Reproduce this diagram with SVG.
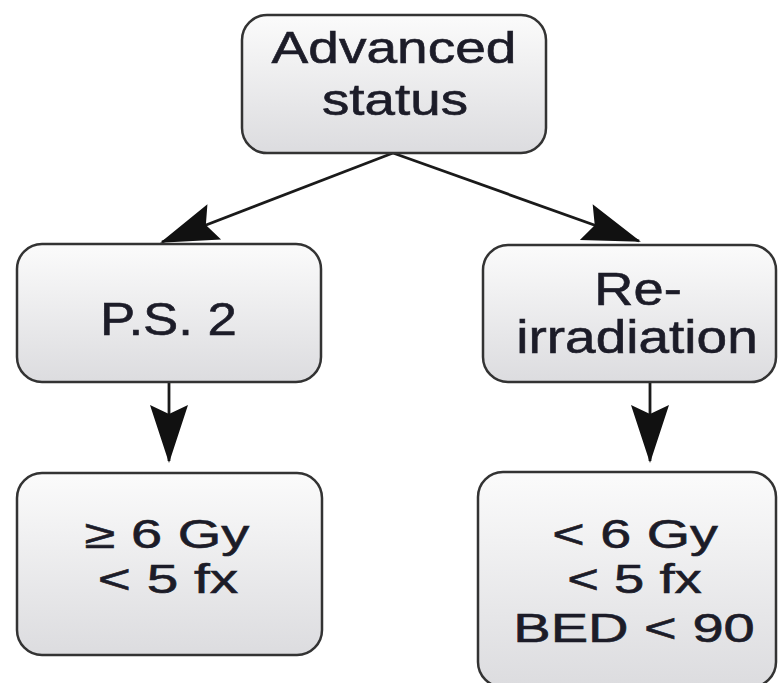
<svg xmlns="http://www.w3.org/2000/svg" width="778" height="683" viewBox="0 0 778 683">
<style>
.box{fill:url(#g);stroke:#333;stroke-width:2.5}
.t{font-family:"Liberation Sans",Arial,sans-serif;fill:#1c1c28;stroke:#1c1c28;stroke-width:0.6;text-anchor:middle}
.c{stroke:#1a1a1a;stroke-width:2.8;fill:none}
</style>
<defs>
<linearGradient id="g" x1="0" y1="0" x2="0" y2="1">
<stop offset="0" stop-color="#fbfbfb"/>
<stop offset="1" stop-color="#dcdcdf"/>
</linearGradient>
<marker id="ah" markerUnits="userSpaceOnUse" viewBox="-60 -22 64 44" refX="0" refY="0" markerWidth="64" markerHeight="44" orient="auto">
<path d="M2,0 L-56,-19 L-47,0 L-56,19 Z" fill="#111"/>
</marker>
</defs>
<rect width="778" height="683" fill="#fff"/>
<g id="connectors">
<line class="c" x1="393" y1="153" x2="162" y2="242" marker-end="url(#ah)"/>
<line class="c" x1="393" y1="153" x2="639" y2="241" marker-end="url(#ah)"/>
<line class="c" x1="169" y1="382" x2="169" y2="461" marker-end="url(#ah)"/>
<line class="c" x1="650" y1="382" x2="650" y2="461" marker-end="url(#ah)"/>
</g>
<g id="advanced">
<rect class="box" x="242" y="15" width="304" height="138" rx="25"/>
<text class="t" font-size="44" transform="translate(394,63) scale(1.15,1)" textLength="213" lengthAdjust="spacingAndGlyphs">Advanced</text>
<text class="t" font-size="44" transform="translate(395,115) scale(1.15,1)" textLength="127" lengthAdjust="spacingAndGlyphs">status</text>
</g>
<g id="ps2">
<rect class="box" x="17" y="244" width="304" height="138" rx="25"/>
<text class="t" font-size="46" transform="translate(168.5,335) scale(1.15,1)" textLength="119" lengthAdjust="spacingAndGlyphs">P.S. 2</text>
</g>
<g id="reirradiation">
<rect class="box" x="483" y="245" width="293" height="137" rx="25"/>
<text class="t" font-size="46" transform="translate(638,305) scale(1.15,1)" textLength="76" lengthAdjust="spacingAndGlyphs">Re-</text>
<text class="t" font-size="46" transform="translate(637,353) scale(1.15,1)" textLength="210" lengthAdjust="spacingAndGlyphs">irradiation</text>
</g>
<g id="ge6gy">
<rect class="box" x="17" y="473" width="305" height="182" rx="25"/>
<text class="t" font-size="40" transform="translate(167,548) scale(1.15,1)" textLength="143" lengthAdjust="spacingAndGlyphs">≥ 6 Gy</text>
<text class="t" font-size="40" transform="translate(168,593) scale(1.15,1)" textLength="122" lengthAdjust="spacingAndGlyphs">&lt; 5 fx</text>
</g>
<g id="lt6gy">
<rect class="box" x="478" y="472" width="298" height="215" rx="25"/>
<text class="t" font-size="40" transform="translate(635,548) scale(1.15,1)" textLength="144" lengthAdjust="spacingAndGlyphs">&lt; 6 Gy</text>
<text class="t" font-size="40" transform="translate(634.5,593) scale(1.15,1)" textLength="117" lengthAdjust="spacingAndGlyphs">&lt; 5 fx</text>
<text class="t" font-size="40" transform="translate(634,642) scale(1.15,1)" textLength="210" lengthAdjust="spacingAndGlyphs">BED &lt; 90</text>
</g>
</svg>
